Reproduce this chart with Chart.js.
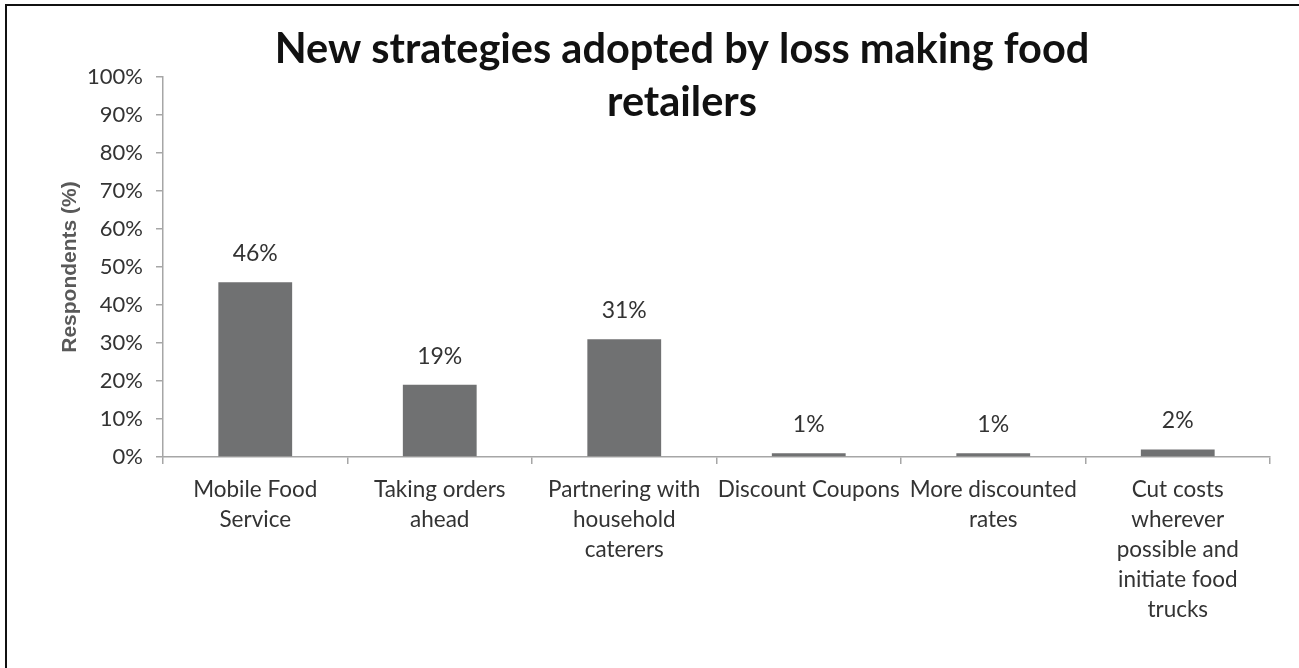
<!DOCTYPE html>
<html>
<head>
<meta charset="utf-8">
<script src="https://cdn.jsdelivr.net/npm/chart.js@4.4.1/dist/chart.umd.min.js"></script>
<style>
  html, body { margin: 0; padding: 0; background: #fff; overflow: hidden; }
  #wrap { position: relative; width: 1299px; height: 668px; overflow: hidden; }
  #frame {
    position: absolute; left: 5px; top: 4px; right: -10px; bottom: -10px;
    border-left: 2px solid #111; border-top: 2px solid #111;
    pointer-events: none;
  }
  canvas { position: absolute; left: 0; top: 0; }
</style>
</head>
<body>
<div id="wrap">
  <canvas id="grafico" width="1299" height="668"></canvas>
  <div id="frame"></div>
</div>
<script>
// ------------------- dados -------------------
const categorias = [
  ['Mobile Food', 'Service'],
  ['Taking orders', 'ahead'],
  ['Partnering with', 'household', 'caterers'],
  ['Discount Coupons'],
  ['More discounted', 'rates'],
  ['Cut costs', 'wherever', 'possible and', 'initiate food', 'trucks']
];
const respondentes = [46, 19, 31, 1, 1, 2];
const tituloLinhas = ['New strategies adopted by loss making food', 'retailers'];
const tituloEixoY = 'Respondents (%)';

const fonteTexto = 'Lato, "Open Sans", sans-serif';

// rótulos de valor acima das barras
const rotulosBarras = {
  id: 'rotulosBarras',
  afterDatasetsDraw(chart) {
    const ctx = chart.ctx;
    const meta = chart.getDatasetMeta(0);
    ctx.save();
    ctx.font = '23px ' + fonteTexto;
    ctx.fillStyle = '#333';
    ctx.textAlign = 'center';
    ctx.textBaseline = 'alphabetic';
    meta.data.forEach((bar, i) => {
      ctx.fillText(respondentes[i] + '%', bar.x, bar.y - 21);
    });
    ctx.restore();
  }
};

// título em duas linhas sobre a área do gráfico
const tituloGrafico = {
  id: 'tituloGrafico',
  afterDraw(chart) {
    const ctx = chart.ctx;
    ctx.save();
    ctx.font = 'bold 41.5px ' + fonteTexto;
    ctx.fillStyle = '#111';
    ctx.textAlign = 'center';
    ctx.textBaseline = 'middle';
    tituloLinhas.forEach((linha, i) => {
      ctx.fillText(linha, 682, 50 + i * 53);
    });
    ctx.restore();
  }
};

new Chart(document.getElementById('grafico'), {
  type: 'bar',
  data: {
    labels: categorias,
    datasets: [{
      data: respondentes,
      backgroundColor: '#707172',
      borderWidth: 0,
      barPercentage: 0.4,
      categoryPercentage: 1
    }]
  },
  options: {
    responsive: false,
    animation: false,
    layout: { padding: { left: 48, top: 77, right: 29, bottom: 0 } },
    plugins: {
      legend: { display: false },
      tooltip: { enabled: false }
    },
    scales: {
      x: {
        afterFit(scale) { scale.height = 211; },
        grid: {
          offset: true,
          drawOnChartArea: false,
          drawTicks: true,
          tickLength: 7,
          color: '#a6a6a6',
          lineWidth: 1.5
        },
        border: { color: '#a6a6a6', width: 1.5 },
        ticks: {
          color: '#333',
          padding: 11,
          maxRotation: 0,
          autoSkip: false,
          font: { family: fonteTexto, size: 22.5, lineHeight: '30px' }
        }
      },
      y: {
        min: 0,
        max: 100,
        afterFit(scale) { scale.width = 115; },
        grid: {
          drawOnChartArea: false,
          drawTicks: true,
          tickLength: 7,
          color: '#a6a6a6',
          lineWidth: 1.5
        },
        border: { color: '#a6a6a6', width: 1.5 },
        ticks: {
          stepSize: 10,
          color: '#333',
          padding: 13,
          font: { family: fonteTexto, size: 22 },
          callback: v => v + '%'
        },
        title: {
          display: true,
          text: tituloEixoY,
          color: '#595959',
          padding: { top: 10, bottom: 0 },
          font: { family: '"Liberation Sans", Arial, sans-serif', size: 21, weight: 'bold' }
        }
      }
    }
  },
  plugins: [rotulosBarras, tituloGrafico]
});
</script>
</body>
</html>
